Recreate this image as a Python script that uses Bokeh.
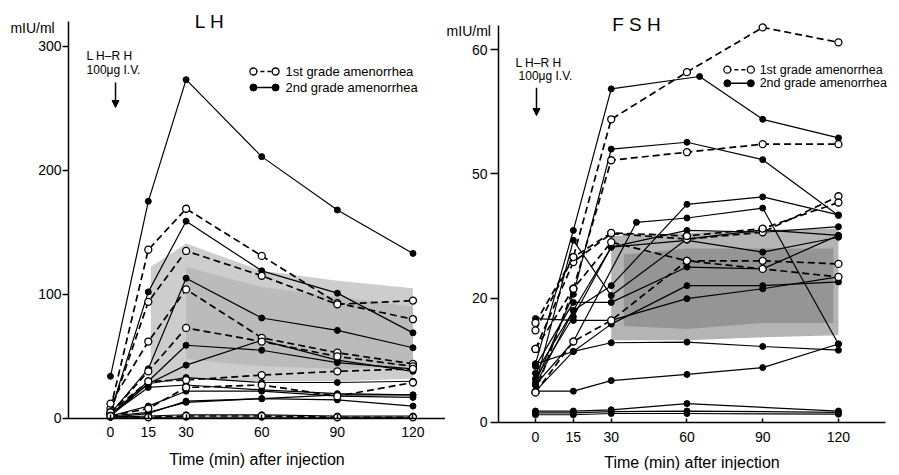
from bokeh.plotting import figure
from bokeh.layouts import row
from bokeh.models import Label, Arrow, NormalHead, Range1d, LinearAxis, FixedTicker
from bokeh.embed import file_html
from bokeh.resources import INLINE

FONT = "Liberation Sans"

# ---------------- data ----------------
times = [0, 15, 30, 60, 90, 120]
x_ticks = [0, 15, 30, 60, 90, 120]

# LH (mIU/ml)
lh_first_grade = [
    [8, 136, 169, 131, 93, 80],
    [5, 94, 135, 115, 92, 95],
    [12, 62, 104, 65, 53, 44],
    [4, 38, 73, 62, 50, 42],
    [5, 30, 31, 35, 38, 40],
    [2, 8, 25, 27, 18, 29],
    [2, 1, 2, 2, 1, 1],
]
lh_second_grade = [
    [34, 175, 273, 211, 168, 133],
    [5, 102, 159, 119, 101, 69],
    [4, 40, 113, 81, 71, 57],
    [3, 30, 59, 55, 45, 40],
    [3, 28, 43, 63, 47, 38],
    [2, 28, 33, 29, 29, 30],
    [3, 25, 27, 23, 20, 19],
    [2, 10, 22, 22, 18, 17],
    [2, 5, 13, 16, 15, 10],
    [1, 4, 14, 16, 19, 19],
    [1, 2, 3, 3, 2, 2],
    [1, 1, 1, 1, 1, 1],
]
lh_band_t = [16, 30, 60, 90, 120]
lh_band_hi = [122, 141, 119, 111, 105]
lh_band_lo = [30, 32, 30, 30, 32]
lh_core_t = [30, 60, 90, 120]
lh_core_hi = [122, 106, 98, 90]
lh_core_lo = [48, 42, 40, 42]
lh_yticks = [0, 100, 200, 300]

# FSH (mIU/ml)
fsh_first_grade = [
    [16, 26.6, 48.8, 56.4, 63.6, 61.2],
    [4.8, 21.5, 42.2, 43.5, 44.8, 44.8],
    [11.8, 25.8, 30.4, 29.5, 30.6, 36.4],
    [14.8, 26.6, 30.5, 30.0, 31.2, 35.4],
    [11.8, 21.5, 29.0, 26.0, 26.0, 25.5],
    [4.8, 13.0, 16.4, 26.0, 24.7, 23.4],
]
fsh_second_grade = [
    ([0, 15, 30, 65, 90, 120], [9.4, 30.9, 53.7, 55.7, 48.8, 45.8]),
    (times, [6.4, 20.6, 44.0, 45.1, 42.3, 33.3]),
    (times, [7.9, 18.0, 22.0, 35.1, 36.3, 33.4]),
    ([0, 15, 40, 60, 90, 120], [6.0, 13.0, 32.2, 32.9, 34.5, 12.6]),
    (times, [6.0, 18.0, 28.2, 30.9, 30.6, 31.5]),
    (times, [7.0, 17.0, 28.2, 29.3, 27.4, 29.8]),
    (times, [16.7, 16.4, 16.4, 19.9, 21.5, 23.4]),
    (times, [9.0, 19.3, 19.3, 25.0, 24.7, 30.1]),
    (times, [5.0, 11.4, 15.8, 22.0, 22.0, 22.6]),
    (times, [6.0, 29.3, 20.4, 29.5, 31.0, 30.1]),
    (times, [9.4, 11.4, 12.8, 12.9, 12.2, 11.6]),
    (times, [5.0, 5.0, 6.7, 7.7, 8.8, 12.6]),
    ([0, 15, 30, 60, 120], [1.8, 1.8, 2.0, 3.0, 1.8]),
    ([0, 15, 30, 60, 120], [1.5, 1.5, 1.7, 1.8, 1.6]),
    ([0, 15, 30, 60, 120], [1.2, 1.2, 1.4, 1.4, 1.3]),
]
fsh_band_t = [30, 60, 90, 120]
fsh_band_hi = [30.0, 30.5, 31.0, 31.2]
fsh_band_lo = [13.2, 13.2, 13.7, 14.0]
fsh_core_t = [35, 60, 90, 118]
fsh_core_hi = [27, 28, 28, 28]
fsh_core_lo = [15.5, 15, 16, 16]
fsh_yticks = [0, 20, 40, 60]
fsh_ytick_labels = {40: "50"}

legend_texts = ["1st grade amenorrhea", "2nd grade amenorrhea"]
x_label = "Time (min) after injection"
unit_label = "mIU/ml"
inj_label_1 = "L H\u2013R H"
inj_label_2 = "100\u03bcg I.V."


def make_fig(width, height, xr, yr, x_bounds, y_bounds, x_std, xl_std, y_tick_out, y_std):
    p = figure(width=width, height=height, x_range=Range1d(*xr), y_range=Range1d(*yr),
               output_backend="svg", toolbar_location=None, title=None,
               x_axis_location=None, y_axis_location=None,
               min_border_left=0, min_border_right=0,
               min_border_top=0, min_border_bottom=0)
    p.outline_line_color = None
    p.xgrid.visible = False
    p.ygrid.visible = False
    p.background_fill_color = "white"
    xa = LinearAxis(fixed_location=0, bounds=x_bounds)
    ya = LinearAxis(fixed_location=x_bounds[0], bounds=y_bounds)
    for ax in (xa, ya):
        ax.axis_line_width = 1.5
        ax.axis_line_color = "black"
        ax.major_tick_line_width = 1.5
        ax.major_tick_line_color = "black"
        ax.minor_tick_line_color = None
        ax.major_label_text_font = FONT
        ax.major_label_text_font_size = "14px"
        ax.major_label_text_color = "black"
    xa.ticker = FixedTicker(ticks=x_ticks)
    xa.major_tick_in = 4
    xa.major_tick_out = 0
    xa.major_label_standoff = x_std
    xa.axis_label = x_label
    xa.axis_label_text_font = FONT
    xa.axis_label_text_font_size = "16px"
    xa.axis_label_text_font_style = "normal"
    xa.axis_label_text_color = "black"
    xa.axis_label_standoff = xl_std
    ya.major_tick_in = 0
    ya.major_tick_out = y_tick_out
    ya.major_label_standoff = y_std
    p.add_layout(xa, "below")
    p.add_layout(ya, "left")
    return p, xa, ya


def draw_series(p, t, v, first):
    if first:
        p.line(t, v, line_color="black", line_width=1.7, line_dash="7 4")
        p.scatter(t, v, marker="circle", size=7, fill_color="white",
                  line_color="black", line_width=1.3)
    else:
        p.line(t, v, line_color="black", line_width=1.2)
        p.scatter(t, v, marker="circle", size=6, fill_color="black", line_color="black")


def add_text(p, x, y, text, size, align="left", baseline="middle"):
    p.add_layout(Label(x=x, y=y, text=text, text_font=FONT, text_font_size=size,
                       text_align=align, text_baseline=baseline, text_color="black"))


def add_legend(p, x1, x2, xt, y1, y2, size):
    p.line([x1, x2], [y1, y1], line_color="black", line_width=1.5, line_dash="4 3")
    p.scatter([x1, x2], [y1, y1], marker="circle", size=7, fill_color="white",
              line_color="black", line_width=1.3)
    p.line([x1, x2], [y2, y2], line_color="black", line_width=1.5)
    p.scatter([x1, x2], [y2, y2], marker="circle", size=7, fill_color="black",
              line_color="black")
    add_text(p, xt, y1, legend_texts[0], size)
    add_text(p, xt, y2, legend_texts[1], size)


# ---------------- LH ----------------
# canvas x 0..445, y 0..470 ; 0 min at x=110, 2.521 px/min ; 0 at y=418, 1.241 px/unit
p1, xa1, ya1 = make_fig(445, 470, (-43.63, 132.9), (-41.9, 336.8),
                        (-16.66, 132.9), (0, 319.9), 9, 10, 6, 1)
ya1.ticker = FixedTicker(ticks=lh_yticks)
p1.varea(x=lh_band_t, y1=lh_band_lo, y2=lh_band_hi, fill_color="#cdcdcd", fill_alpha=1.0)
p1.varea(x=lh_core_t, y1=lh_core_lo, y2=lh_core_hi, fill_color="#9a9a9a", fill_alpha=0.35)
for v in lh_second_grade:
    draw_series(p1, times, v, False)
for v in lh_first_grade:
    draw_series(p1, times, v, True)
add_legend(p1, 56.7, 65.5, 69.4, 279.6, 266.7, "13px")
add_text(p1, 39.3, 320, "L H", "19px", align="center")
add_text(p1, -39.7, 315, unit_label, "14px")
add_text(p1, -9.5, 291.7, inj_label_1, "12px")
add_text(p1, -9.5, 280.4, inj_label_2, "12px")
p1.add_layout(Arrow(end=NormalHead(size=7, fill_color="black", line_color="black"),
                    x_start=2, y_start=270.7, x_end=2, y_end=250.6,
                    line_width=1.5, line_color="black"))

# ---------------- FSH ----------------
# canvas x 445..895, y 0..470 ; 0 min at x=535, 2.525 px/min ; 0 at y=421.7, 6.207 px/unit
p2, xa2, ya2 = make_fig(450, 470, (-35.64, 142.6), (-7.78, 67.94),
                        (-14.65, 138.6), (0, 63.9), 10, 8, 8, 3)
ya2.ticker = FixedTicker(ticks=fsh_yticks)
ya2.major_label_overrides = fsh_ytick_labels
p2.varea(x=fsh_band_t, y1=fsh_band_lo, y2=fsh_band_hi, fill_color="#b4b4b4", fill_alpha=1.0)
p2.varea(x=fsh_core_t, y1=fsh_core_lo, y2=fsh_core_hi, fill_color="#6e6e6e", fill_alpha=0.45)
for t, v in fsh_second_grade:
    draw_series(p2, t, v, False)
for v in fsh_first_grade:
    draw_series(p2, times, v, True)
add_legend(p2, 76.0, 85.3, 88.8, 56.8, 54.6, "12.5px")
add_text(p2, 40, 64, "F S H", "19px", align="center")
add_text(p2, -35.2, 63.0, unit_label, "14px")
add_text(p2, -7.9, 57.9, inj_label_1, "12px")
add_text(p2, -6.7, 55.7, inj_label_2, "12px")
p2.add_layout(Arrow(end=NormalHead(size=7, fill_color="black", line_color="black"),
                    x_start=0.4, y_start=53.9, x_end=0.4, y_end=49.4,
                    line_width=1.5, line_color="black"))

layout = row(p1, p2)
open("out.html", "w").write(file_html(layout, INLINE))
